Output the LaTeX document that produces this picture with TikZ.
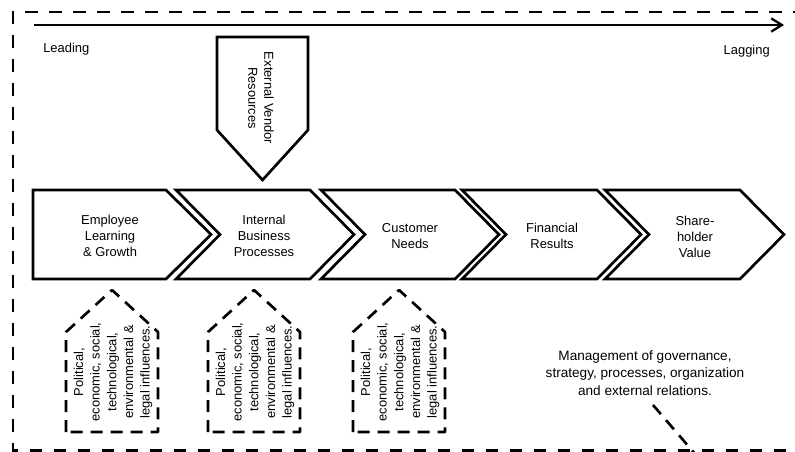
\documentclass[tikz,border=0pt]{standalone}
\usepackage{fontspec}
\setmainfont{Liberation Sans}
\usetikzlibrary{arrows.meta}

\begin{document}
\begin{tikzpicture}[x=0.75pt,y=0.75pt,yscale=-1,xscale=1,
  chevron/.style={line width=2pt,line join=miter},
  house/.style={line width=2pt,line join=round,dash pattern=on 9pt off 6pt},
  frame/.style={line width=2.2pt,dash pattern=on 9.5pt off 8.5pt},
  timeline/.style={line width=1.7pt,-{Straight Barb[length=8pt,width=10pt,line width=1.7pt]}},
  boxtext/.style={font=\fontsize{9.7}{12}\selectfont,align=center,inner sep=0.75pt},
  sidetext/.style={boxtext,font=\fontsize{9.7}{12.5}\selectfont}]
\useasboundingbox (0,0) rectangle (795,451);
\clip (0,0) rectangle (795,451);

%Dashed frame
\draw [frame] (830,12) -- (13,12) -- (13,450.5) -- (830,450.5) ;

%Time axis
\coordinate (lead) at (34,25);
\coordinate (lag) at (784,25);
\draw [timeline] (lead) -- (lag) ;
% Text Node
\node (leading) [boxtext,anchor=west] at (42,49) {Leading};
% Text Node
\node (lagging) [boxtext,anchor=east] at (771,51) {Lagging};

%Shape: Pentagon, pointing down
\draw [chevron] (217,37) -- (308,37) -- (308,130) -- (262.5,180) -- (217,130) -- cycle ;
% Text Node
\node (vendor) [boxtext,rotate=-90] at (261,98) {External Vendor\\Resources};

%Shape: Chevron
\draw [chevron] (33,190) -- (166,190) -- (211,234.5) -- (166,279) -- (33,279) -- cycle ;
%Shape: Chevron
\draw [chevron] (176,190) -- (310,190) -- (354,234.5) -- (310,279) -- (176,279) -- (220,234.5) -- cycle ;
%Shape: Chevron
\draw [chevron] (321,190) -- (455,190) -- (499,234.5) -- (455,279) -- (321,279) -- (365,234.5) -- cycle ;
%Shape: Chevron
\draw [chevron] (462,190) -- (597,190) -- (641,234.5) -- (597,279) -- (462,279) -- (506,234.5) -- cycle ;
%Shape: Chevron
\draw [chevron] (605,190) -- (740,190) -- (784,234.5) -- (740,279) -- (605,279) -- (649,234.5) -- cycle ;

% Text Node
\node (learning) [boxtext] at (110,236) {Employee\\Learning\\\& Growth};
% Text Node
\node (internal) [boxtext] at (264,236) {Internal\\Business\\Processes};
% Text Node
\node (customer) [boxtext] at (410,236) {Customer\\Needs};
% Text Node
\node (financial) [boxtext] at (552,236) {Financial\\Results};
% Text Node
\node (shareholder) [boxtext] at (695,237) {Share-\\holder\\Value};

%Shape: House, dashed
\draw [house] (66,432) -- (66,332) -- (112,290) -- (158,332) -- (158,432) -- cycle ;
%Shape: House, dashed
\draw [house] (208,432) -- (208,332) -- (254,290) -- (300,332) -- (300,432) -- cycle ;
%Shape: House, dashed
\draw [house] (353,432) -- (353,332) -- (399,290) -- (445,332) -- (445,432) -- cycle ;

% Text Node
\node (pestel1) [sidetext,rotate=90] at (113,372) {Political,\\economic, social,\\technological,\\environmental \&\\legal influences.};
% Text Node
\node (pestel2) [sidetext,rotate=90] at (255,372) {Political,\\economic, social,\\technological,\\environmental \&\\legal influences.};
% Text Node
\node (pestel3) [sidetext,rotate=90] at (400,372) {Political,\\economic, social,\\technological,\\environmental \&\\legal influences.};

% Text Node
\node (mgmt) [boxtext,font=\fontsize{10.2}{13}\selectfont] at (645,373) {Management of governance,\\strategy, processes, organization\\and external relations.};
\coordinate (m1) at (653,405);
\coordinate (m2) at (702,462);
\draw [house] (m1) -- (m2) ;

\end{tikzpicture}
\end{document}
